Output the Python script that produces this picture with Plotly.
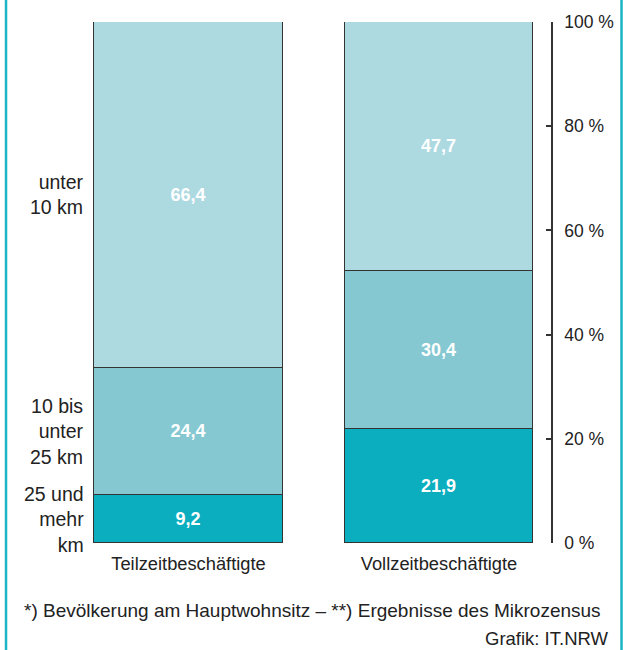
import plotly.graph_objects as go

# ---------------- Daten ----------------
gruppen = ["Teilzeitbeschäftigte", "Vollzeitbeschäftigte"]
kategorien = ["25 und<br>mehr<br>km", "10 bis<br>unter<br>25 km", "unter<br>10 km"]
anteil_25_mehr = [9.2, 21.9]
anteil_10_25 = [24.4, 30.4]
anteil_unter_10 = [66.4, 47.7]
tick_werte = [0, 20, 40, 60, 80, 100]
tick_texte = ["0 %", "20 %", "40 %", "60 %", "80 %", "100 %"]

farben = ["#0aaebf", "#85c8d2", "#add9e1"]
serien = [anteil_25_mehr, anteil_10_25, anteil_unter_10]
SCHRIFT = "Liberation Sans"

def de(v):
    return f"{v:.1f}".replace(".", ",")

# ---------------- Grafik ----------------
fig = go.Figure()
for name, werte, farbe in zip(kategorien, serien, farben):
    fig.add_trace(go.Bar(
        x=gruppen, y=werte, name=name,
        marker=dict(color=farbe, line=dict(color="#333333", width=1)),
        text=[de(v) for v in werte], textposition="inside",
        insidetextanchor="middle", textangle=0,
        textfont=dict(color="white", size=18, family=SCHRIFT, weight="bold"),
        width=0.754, hoverinfo="skip",
    ))

# Beschriftung links an der Teilzeit-Säule (Mitte jedes Segments)
basis = 0
for name, werte in zip(kategorien, serien):
    fig.add_annotation(
        x=-0.41, y=basis + werte[0] / 2, xref="x", yref="y",
        text=name, showarrow=False, xanchor="right", yanchor="middle",
        align="right", font=dict(size=19.5, color="#222222", family=SCHRIFT),
    )
    basis += werte[0]

fig.add_annotation(
    x=0.505, y=-0.1286, xref="paper", yref="paper", xanchor="center", yanchor="middle",
    text="*) Bevölkerung am Hauptwohnsitz – **) Ergebnisse des Mikrozensus",
    showarrow=False, font=dict(size=19, color="#222222", family=SCHRIFT),
)
fig.add_annotation(
    x=1.125, y=-0.183, xref="paper", yref="paper", xanchor="right", yanchor="middle",
    text="Grafik: IT.NRW", showarrow=False,
    font=dict(size=18.5, color="#222222", family=SCHRIFT),
)

# türkise Randlinien
for xp in [-0.133, 1.1466]:
    fig.add_shape(type="line", xref="paper", yref="paper",
                  x0=xp, x1=xp, y0=-0.25, y1=1.1,
                  line=dict(color="#1bb5c6", width=2.5))

fig.update_layout(
    width=627, height=650,
    barmode="stack", bargap=0,
    showlegend=False,
    plot_bgcolor="white", paper_bgcolor="white",
    margin=dict(l=70, r=76, t=22, b=107),
    font=dict(family=SCHRIFT, color="#222222"),
    xaxis=dict(range=[-0.473, 1.447], showgrid=False, zeroline=False,
               showline=False, ticks="", ticklabelstandoff=8,
               tickfont=dict(size=18.3, color="#222222")),
    yaxis=dict(side="right", range=[0, 100], tickvals=tick_werte, ticktext=tick_texte,
               showgrid=False, zeroline=False, showline=True,
               linecolor="#333333", linewidth=1.5,
               ticks="inside", ticklen=5, tickwidth=1.5, tickcolor="#333333",
               ticklabelstandoff=8,
               tickfont=dict(size=17.5, color="#222222")),
)

# Seitenrand des Browsers entfernen, damit die Grafik bei (0,0) beginnt
fig.write_html("out.html", config={"displayModeBar": False},
               post_script="document.body.style.margin='0';")
